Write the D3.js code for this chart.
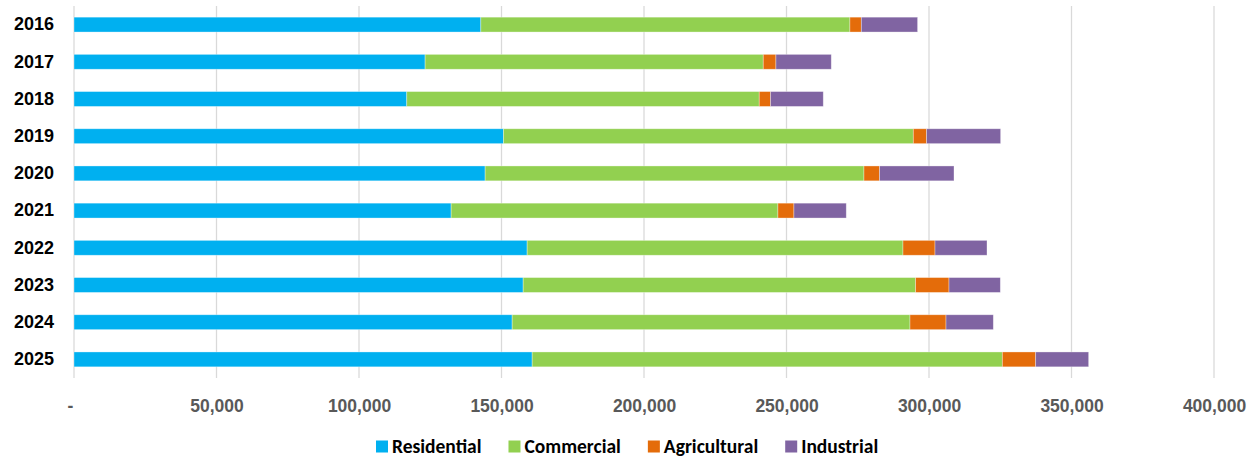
<!DOCTYPE html>
<html>
<head>
<meta charset="utf-8">
<script src="https://cdn.jsdelivr.net/npm/d3@7"></script>
<style>
  html, body { margin: 0; padding: 0; background: #fff; }
  svg { display: block; font-family: Carlito, Calibri, Lato, "Open Sans", sans-serif; }
</style>
</head>
<body>
<svg id="chart" width="1253" height="458"></svg>
<script>
// Energy consumption by sector, per year
const years = ["2016", "2017", "2018", "2019", "2020", "2021", "2022", "2023", "2024", "2025"];
const seriesNames = ["Residential", "Commercial", "Agricultural", "Industrial"];
const residential  = [142750, 123200, 116760, 150700, 144260, 132330, 159000, 157600, 153740, 160760];
const commercial   = [129500, 118640, 123670, 143790, 132920, 114660, 131870, 137700, 139590, 164970];
const agricultural = [  4000,   4450,   3980,   4680,   5490,   5620,  11240,  11720,  12640,  11700];
const industrial   = [ 19750,  19420,  18490,  25970,  26100,  18360,  18240,  18010,  16600,  18590];
const xTicks = [0, 50000, 100000, 150000, 200000, 250000, 300000, 350000, 400000];
const colors = ["#00B0F0", "#92D050", "#E46C0A", "#8064A2"];

const svg = d3.select("#chart");
const plot = { left: 74, right: 1214, top: 6, bottom: 378 };

const rows = years.map((y, i) => ({
  year: y,
  Residential: residential[i],
  Commercial: commercial[i],
  Agricultural: agricultural[i],
  Industrial: industrial[i]
}));

const x = d3.scaleLinear().domain([0, 400000]).range([plot.left, plot.right]);
const y = d3.scaleBand().domain(years).range([plot.top, plot.bottom])
  .paddingInner(0.6).paddingOuter(0.3);
const color = d3.scaleOrdinal().domain(seriesNames).range(colors);

// vertical gridlines
svg.append("g")
  .selectAll("line")
  .data(xTicks)
  .join("line")
  .attr("x1", d => x(d)).attr("x2", d => x(d))
  .attr("y1", plot.top).attr("y2", plot.bottom)
  .attr("stroke", "#d9d9d9")
  .attr("stroke-width", 1.25);

// stacked bars
const stacked = d3.stack().keys(seriesNames)(rows);
svg.append("g")
  .selectAll("g")
  .data(stacked)
  .join("g")
  .attr("fill", d => color(d.key))
  .selectAll("rect")
  .data(d => d)
  .join("rect")
  .attr("x", d => x(d[0]))
  .attr("width", d => x(d[1]) - x(d[0]))
  .attr("y", d => y(d.data.year))
  .attr("height", y.bandwidth())
  .attr("stroke", "#ffffff")
  .attr("stroke-opacity", 0.45)
  .attr("stroke-width", 0.75);

// category axis labels
const yAxis = svg.append("g")
  .attr("transform", `translate(${plot.left - 2},0)`)
  .call(d3.axisLeft(y).tickSize(0).tickPadding(18));
yAxis.select(".domain").remove();
yAxis.selectAll("text")
  .attr("font-size", 18)
  .attr("font-weight", "bold")
  .attr("fill", "#000");

// value axis labels
const fmt = d3.format(",");
const xAxis = svg.append("g")
  .attr("transform", `translate(0,${plot.bottom})`)
  .call(d3.axisBottom(x).tickValues(xTicks).tickSize(0).tickPadding(22)
    .tickFormat(d => d === 0 ? "-" : fmt(d)));
xAxis.select(".domain").remove();
xAxis.selectAll("text")
  .attr("font-size", 17.5)
  .attr("font-weight", "bold")
  .attr("fill", "#595959");
xAxis.selectAll(".tick").filter(d => d === 0).select("text").attr("dx", -4);

// legend
const legend = svg.append("g");
const items = legend.selectAll("g")
  .data(seriesNames)
  .join("g");
items.append("rect")
  .attr("width", 12).attr("height", 12)
  .attr("y", -12.5)
  .attr("fill", d => color(d));
items.append("text")
  .attr("x", 16)
  .attr("y", 0)
  .attr("font-size", 19.5)
  .attr("font-weight", "bold")
  .attr("fill", "#000")
  .text(d => d);

let cursor = 0;
items.each(function () {
  const g = d3.select(this);
  const w = 16 + g.select("text").node().getComputedTextLength();
  g.attr("transform", `translate(${cursor},0)`);
  cursor += w + 27;
});
const total = cursor - 27;
legend.attr("transform", `translate(${Math.round(627 - total / 2)},453)`);
</script>
</body>
</html>
